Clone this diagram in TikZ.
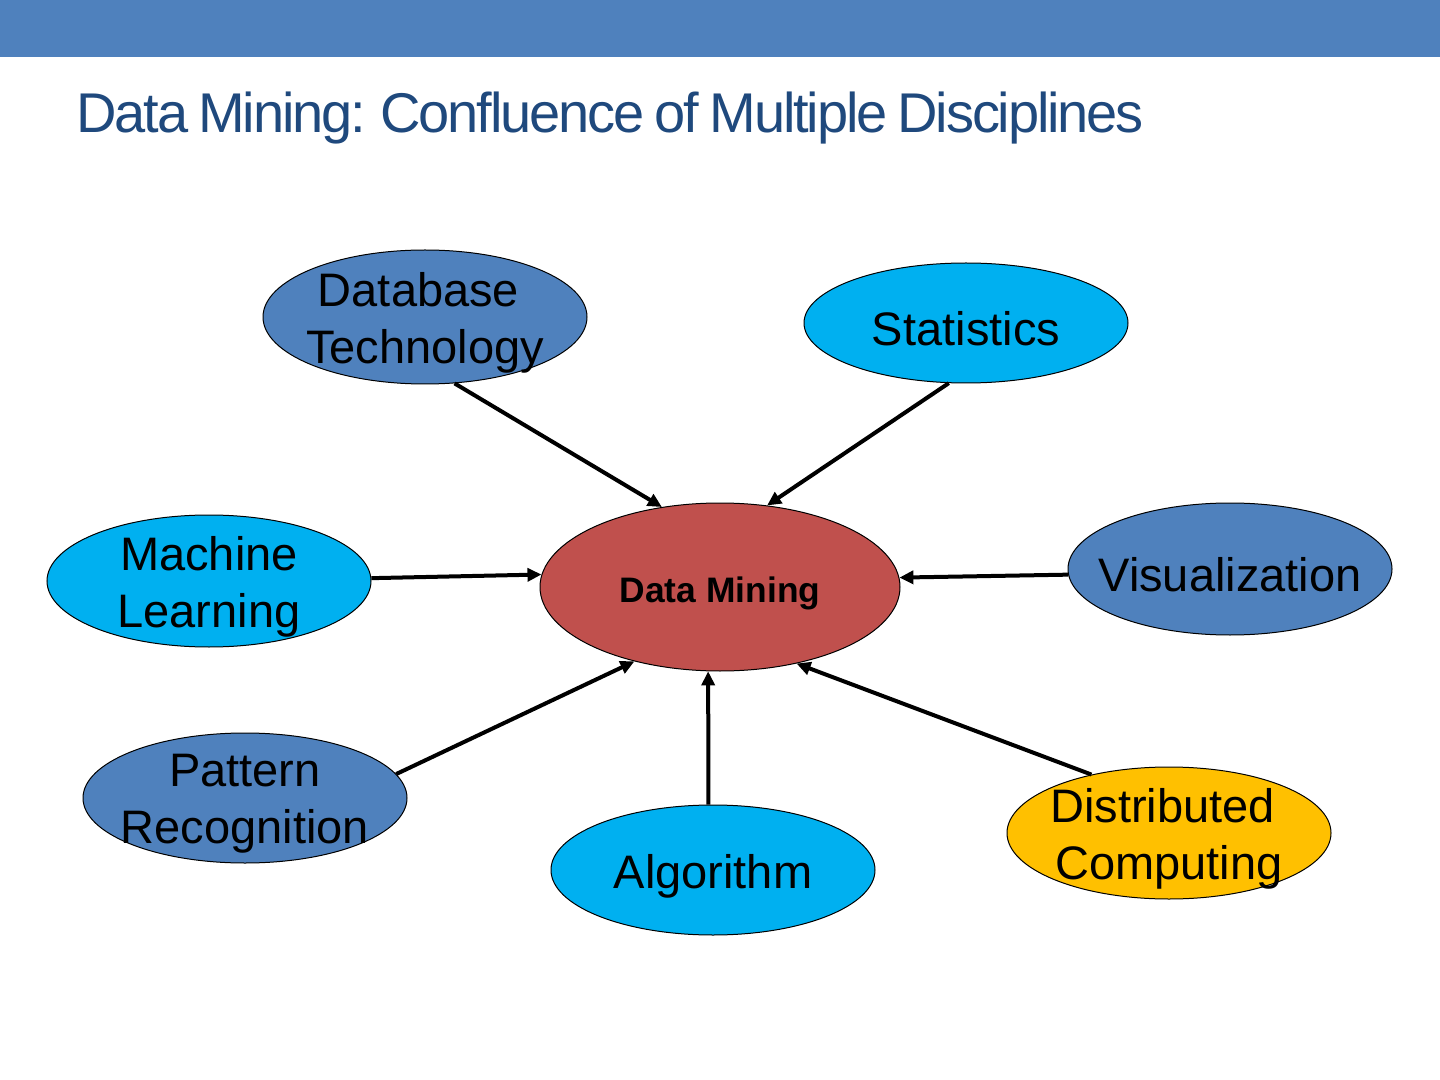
\documentclass[tikz,border=0pt]{standalone}
\usepackage{fontspec}
\setmainfont{Liberation Sans}
\newfontfamily\titlefont[LetterSpace=-3.8,WordSpace=0.75]{Liberation Sans}
\usetikzlibrary{shapes.geometric,arrows.meta}
\definecolor{band}{HTML}{4F81BD}
\definecolor{titleblue}{HTML}{1F497D}
\definecolor{midblue}{HTML}{4F81BD}
\definecolor{cyanblue}{HTML}{00B0F0}
\definecolor{dmred}{HTML}{C0504D}
\definecolor{gold}{HTML}{FFC000}
\newcommand{\trsp}{\hphantom{\ }}
\tikzset{
  blob/.style={ellipse, draw=black, line width=0.5pt, inner sep=0pt,
    minimum width=162pt, minimum height=66pt},
  txt/.style={align=center, font=\fontsize{23.5pt}{28.5pt}\selectfont, yshift=-3pt, text=black},
  conn/.style={line width=2pt, -{Triangle[length=7pt,width=6.5pt]}}
}
\begin{document}
\begin{tikzpicture}[x=0.5pt,y=-0.5pt]
\useasboundingbox (0,0) rectangle (1440,1080);
\fill[white] (0,0) rectangle (1440,1080);
\fill[band] (0,0) rectangle (1440,57);
\node[anchor=base west, inner sep=0pt, text=titleblue,
  font=\titlefont\fontsize{28pt}{32pt}\selectfont] (title) at (76,133)
  {Data Mining: Confluence of Multiple Disciplines};

\node[blob, fill=midblue, minimum height=67pt,
  label={[txt]center:Database\trsp\\ Technology}] (db) at (425,317) {};
\node[blob, fill=cyanblue, minimum height=60pt,
  label={[txt]center:Statistics}] (stat) at (966,323) {};
\node[blob, fill=dmred, minimum width=180pt, minimum height=84pt,
  label={[txt, font=\fontsize{17.7pt}{21pt}\selectfont\bfseries]center:Data Mining}] (dm) at (720,587) {};
\node[blob, fill=cyanblue,
  label={[txt]center:Machine\\Learning}] (ml) at (209,581) {};
\node[blob, fill=midblue,
  label={[txt]center:Visualization}] (vis) at (1230,569) {};
\node[blob, fill=midblue, minimum height=65pt,
  label={[txt]center:Pattern\\Recognition}] (pr) at (245,798) {};
\node[blob, fill=cyanblue, minimum height=65pt,
  label={[txt]center:Algorithm}] (alg) at (713,870) {};
\node[blob, fill=gold,
  label={[txt]center:Distributed\trsp\\ Computing}] (dc) at (1169,833) {};

\draw[conn] (db.-66.2) -- (dm.126.2);
\draw[conn] (stat.-106.2) -- (dm.60.3);
\draw[conn] (ml.1.8) -- (dm.176.5);
\draw[conn] (vis.182.5) -- (dm.3.5);
\draw[conn] (pr.9.3) -- (dm.-139);
\draw[conn] (alg.94.4) -- (dm.-98);
\draw[conn] (dc.143.1) -- (dm.-45);
\end{tikzpicture}
\end{document}
